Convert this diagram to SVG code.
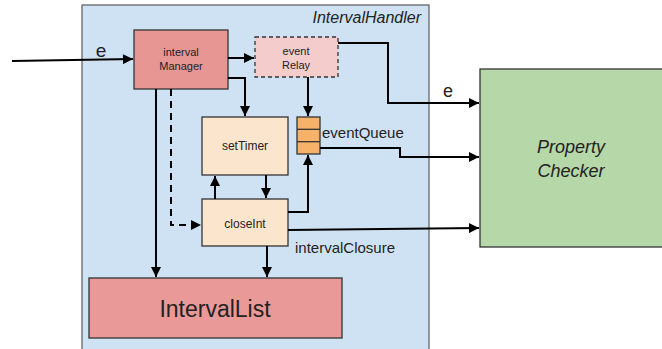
<svg xmlns="http://www.w3.org/2000/svg" width="662" height="349" viewBox="0 0 662 349">
  <style>
    .box { stroke: #333; stroke-width: 1.3; }
    .lbl { font-family: "Liberation Sans", Arial, sans-serif; fill: #222; }
    .wire { fill: none; stroke: #000; stroke-width: 2; }
    .dash { stroke-dasharray: 7 5; }
  </style>
  <defs>
    <marker id="arrow" viewBox="0 0 10 10" refX="10" refY="5" markerWidth="5.5" markerHeight="5" markerUnits="strokeWidth" orient="auto">
      <path d="M0,0 L10,5 L0,10 z" fill="#000"/>
    </marker>
  </defs>

  <rect width="662" height="349" fill="#fff"/>

  <g id="intervalHandler">
    <rect x="82" y="5" width="347" height="350" fill="#cfe2f3" stroke="#666" stroke-width="1.3"/>
    <text class="lbl" x="421" y="23" font-size="16" font-style="italic" text-anchor="end">IntervalHandler</text>
  </g>

  <g id="propertyChecker">
    <rect class="box" x="480" y="69" width="190" height="178" fill="#b6d7a8"/>
    <text class="lbl" x="571" y="153" font-size="18" font-style="italic" text-anchor="middle">Property</text>
    <text class="lbl" x="571" y="177" font-size="18" font-style="italic" text-anchor="middle">Checker</text>
  </g>

  <g id="intervalManager">
    <rect class="box" x="134" y="30" width="94" height="59" fill="#e89693"/>
    <text class="lbl" x="181" y="56" font-size="11" text-anchor="middle">interval</text>
    <text class="lbl" x="181" y="70" font-size="11" text-anchor="middle">Manager</text>
  </g>

  <g id="eventRelay">
    <rect class="box" x="255" y="37" width="83" height="40" fill="#f4cccc" stroke-dasharray="4 3"/>
    <text class="lbl" x="296" y="55" font-size="11" text-anchor="middle">event</text>
    <text class="lbl" x="296" y="69" font-size="11" text-anchor="middle">Relay</text>
  </g>

  <g id="setTimer">
    <rect class="box" x="202" y="117" width="86" height="58" fill="#fce5cd"/>
    <text class="lbl" x="245" y="150" font-size="12" text-anchor="middle">setTimer</text>
  </g>

  <g id="eventQueue">
    <rect class="box" x="297" y="117" width="23" height="37" fill="#f6b26b"/>
    <line x1="297" y1="129.3" x2="320" y2="129.3" stroke="#333" stroke-width="1.3"/>
    <line x1="297" y1="141.7" x2="320" y2="141.7" stroke="#333" stroke-width="1.3"/>
    <text class="lbl" x="322" y="138" font-size="15">eventQueue</text>
  </g>

  <g id="closeInt">
    <rect class="box" x="202" y="199" width="86" height="47" fill="#fce5cd"/>
    <text class="lbl" x="245" y="228" font-size="12" text-anchor="middle">closeInt</text>
  </g>

  <g id="intervalList">
    <rect class="box" x="89" y="278" width="253" height="60" fill="#ea9999"/>
    <text class="lbl" x="215" y="317" font-size="23" text-anchor="middle">IntervalList</text>
  </g>

  <g id="connectors">
    <!-- incoming event -->
    <path class="wire" d="M12,61 L133,59" marker-end="url(#arrow)"/>
    <text class="lbl" x="101" y="57" font-size="19" text-anchor="middle">e</text>
    <!-- manager -> relay -->
    <path class="wire" d="M228,58 L254,58" marker-end="url(#arrow)"/>
    <!-- manager -> setTimer -->
    <path class="wire" d="M228,78 L245,78 L245,116" marker-end="url(#arrow)"/>
    <!-- relay -> queue -->
    <path class="wire" d="M308,77 L308,116" marker-end="url(#arrow)"/>
    <!-- relay -> property checker -->
    <path class="wire" d="M338,43 L388,43 L388,103 L479,103" marker-end="url(#arrow)"/>
    <text class="lbl" x="448" y="97" font-size="18" text-anchor="middle">e</text>
    <!-- queue -> property checker -->
    <path class="wire" d="M320,148 L400,148 L400,157 L479,157" marker-end="url(#arrow)"/>
    <!-- closeInt -> setTimer -->
    <path class="wire" d="M215,199 L215,176" marker-end="url(#arrow)"/>
    <!-- setTimer -> closeInt -->
    <path class="wire" d="M266,175 L266,198" marker-end="url(#arrow)"/>
    <!-- closeInt -> queue -->
    <path class="wire" d="M288,212 L308,212 L308,155" marker-end="url(#arrow)"/>
    <!-- closeInt -> property checker -->
    <path class="wire" d="M288,230 L479,228" marker-end="url(#arrow)"/>
    <text class="lbl" x="295" y="253" font-size="15">intervalClosure</text>
    <!-- manager -> closeInt (dashed) -->
    <path class="wire dash" d="M171,89 L171,225 L201,225" marker-end="url(#arrow)"/>
    <!-- manager -> intervalList -->
    <path class="wire" d="M156,89 L156,277" marker-end="url(#arrow)"/>
    <!-- closeInt -> intervalList -->
    <path class="wire" d="M267,246 L267,277" marker-end="url(#arrow)"/>
  </g>
</svg>
